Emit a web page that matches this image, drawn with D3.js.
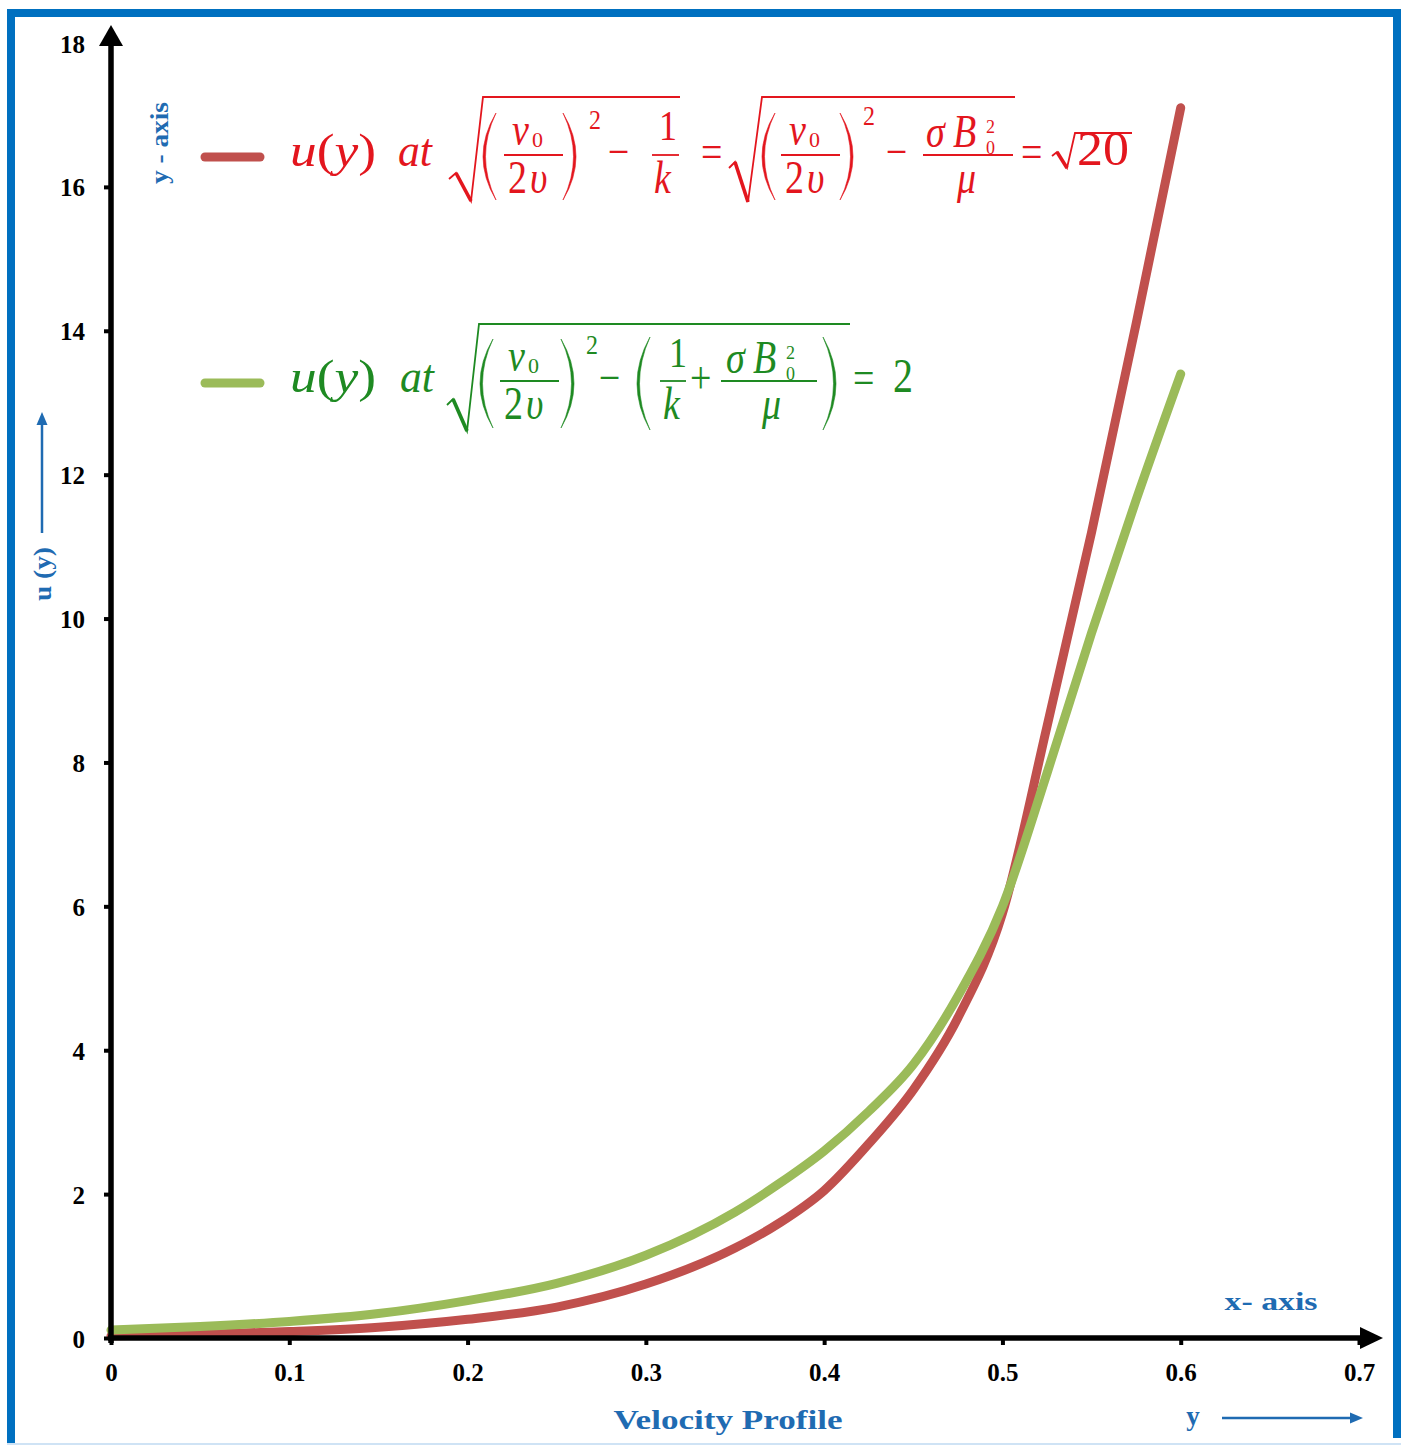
<!DOCTYPE html>
<html>
<head>
<meta charset="utf-8">
<script src="https://cdn.jsdelivr.net/npm/d3@7"></script>
<style>
  body { margin: 0; background: #fff; }
  svg { display: block; }
</style>
</head>
<body>
<div id="chart"></div>
<script>
// values
const xValues = [0, 0.05, 0.1, 0.15, 0.2, 0.25, 0.3, 0.35, 0.375, 0.4, 0.425, 0.45, 0.475, 0.5, 0.525, 0.55, 0.575, 0.6];
const redValues = [0.03, 0.05, 0.09, 0.15, 0.26, 0.43, 0.75, 1.25, 1.6, 2.05, 2.7, 3.45, 4.45, 5.9, 8.5, 11.2, 14.1, 17.1];
const greenValues = [0.11, 0.16, 0.23, 0.34, 0.52, 0.76, 1.15, 1.75, 2.15, 2.6, 3.15, 3.8, 4.75, 6.0, 7.85, 9.8, 11.65, 13.4];
const yTicks = [0, 2, 4, 6, 8, 10, 12, 14, 16, 18];
const xTicks = [0, 0.1, 0.2, 0.3, 0.4, 0.5, 0.6, 0.7];
const xTickLabels = ['0', '0.1', '0.2', '0.3', '0.4', '0.5', '0.6', '0.7'];

const WIDTH = 1402;
const HEIGHT = 1445;
const SERIF = "'Liberation Serif', 'Times New Roman', serif";
const BLUE = '#1F6BB2';
const RED_LINE = '#C0504D';
const GREEN_LINE = '#9BBB59';
const RED_TEXT = '#E3161E';
const GREEN_TEXT = '#1E8A22';
const SY = 1.2; // equation glyphs are a bit taller than wide in the reference
const DEN = 36; // baseline of denominators below the fraction axis

const series = [
  { key: 'red', values: redValues, color: RED_LINE },
  { key: 'green', values: greenValues, color: GREEN_LINE },
];

const svg = d3.select('#chart')
  .append('svg')
  .attr('width', WIDTH)
  .attr('height', HEIGHT)
  .attr('viewBox', `0 0 ${WIDTH} ${HEIGHT}`);

svg.append('rect').attr('width', WIDTH).attr('height', HEIGHT).attr('fill', '#fff');

// Blue frame
const frame = svg.append('g').attr('fill', '#0070C0');
frame.append('rect').attr('x', 7).attr('y', 9).attr('width', 1394).attr('height', 8);
frame.append('rect').attr('x', 7).attr('y', 9).attr('width', 8).attr('height', 1436);
frame.append('rect').attr('x', 1393).attr('y', 9).attr('width', 8).attr('height', 1429);
svg.append('rect').attr('x', 7).attr('y', 1443).attr('width', 1394).attr('height', 2).attr('fill', '#CFE3F5');

// Scales
const x = d3.scaleLinear().domain([0, 0.7]).range([111, 1359]);
const y = d3.scaleLinear().domain([0, 18]).range([1338, 43]);

// Curves
const line = d3.line()
  .x((d) => x(d[0]))
  .y((d) => y(d[1]))
  .curve(d3.curveMonotoneX);

svg.selectAll('.curve')
  .data(series)
  .enter()
  .append('path')
  .attr('class', 'curve')
  .attr('d', (s) => line(xValues.map((v, i) => [v, s.values[i]])))
  .attr('fill', 'none')
  .attr('stroke', (s) => s.color)
  .attr('stroke-width', 9)
  .attr('stroke-linecap', 'round')
  .attr('stroke-linejoin', 'round');

// Axes (ticks + labels from d3, thick lines and arrows drawn on top)
const yAxis = svg.append('g')
  .attr('transform', `translate(${x(0)},0)`)
  .call(d3.axisLeft(y).tickValues(yTicks).tickSize(7).tickSizeOuter(0).tickPadding(19).tickFormat(d3.format('d')));

const xAxis = svg.append('g')
  .attr('transform', `translate(0,${y(0)})`)
  .call(d3.axisBottom(x).tickValues(xTicks).tickSize(7).tickSizeOuter(0).tickPadding(18)
    .tickFormat((d, i) => xTickLabels[i]));

[yAxis, xAxis].forEach((ax) => {
  ax.select('.domain').remove();
  ax.selectAll('.tick line').attr('stroke', '#000').attr('stroke-width', 4);
  ax.selectAll('.tick text')
    .attr('fill', '#000')
    .attr('font-family', SERIF)
    .attr('font-weight', 'bold')
    .attr('font-size', 25);
});
yAxis.selectAll('.tick text').attr('dy', '0.36em');

const axisLines = svg.append('g').attr('stroke', '#000').attr('stroke-width', 5.5);
axisLines.append('line').attr('x1', x(0)).attr('x2', x(0)).attr('y1', y(0) + 5).attr('y2', 40);
axisLines.append('line').attr('x1', x(0) - 3).attr('x2', 1364).attr('y1', y(0)).attr('y2', y(0));
svg.append('path').attr('d', `M${x(0)},25 L${x(0) + 12},46 L${x(0) - 12},46 Z`).attr('fill', '#000');
svg.append('path').attr('d', `M1383,${y(0)} L1360,${y(0) - 11} L1360,${y(0) + 11} Z`).attr('fill', '#000');

// Blue axis captions
function caption(x0, y0, str, size, len, rotate) {
  const el = svg.append('text')
    .attr('transform', `translate(${x0},${y0})${rotate ? ' rotate(-90)' : ''}`)
    .attr('text-anchor', 'middle')
    .attr('font-family', SERIF)
    .attr('font-weight', 'bold')
    .attr('font-size', size)
    .attr('fill', BLUE)
    .text(str);
  if (len) el.attr('textLength', len).attr('lengthAdjust', 'spacingAndGlyphs');
  return el;
}

caption(168, 143, 'y - axis', 25, 82, true);
caption(51, 574, 'u (y)', 25, 54, true);
caption(1271, 1310, 'x- axis', 26, 93);
caption(728, 1429, 'Velocity Profile', 27, 229);
caption(1193, 1425, 'y', 27);

function arrow(x1, y1, x2, y2) {
  const ang = Math.atan2(y2 - y1, x2 - x1);
  const len = 13;
  const half = 5.5;
  const bx = x2 - Math.cos(ang) * len;
  const by = y2 - Math.sin(ang) * len;
  svg.append('line')
    .attr('x1', x1).attr('y1', y1).attr('x2', bx).attr('y2', by)
    .attr('stroke', BLUE).attr('stroke-width', 2.5);
  svg.append('path')
    .attr('d', `M${x2},${y2} L${bx - Math.sin(ang) * half},${by + Math.cos(ang) * half} L${bx + Math.sin(ang) * half},${by - Math.cos(ang) * half} Z`)
    .attr('fill', BLUE);
}
arrow(42, 533, 42, 412);
arrow(1222, 1418, 1363, 1418);

// Legend with the equations
function makeEq(g, color) {
  const api = {
    t(x0, y0, str, size = 38, italic = false, len = null, sy = SY) {
      const el = g.append('text')
        .attr('transform', `translate(${x0},${y0}) scale(1,${sy})`)
        .attr('font-family', SERIF)
        .attr('font-size', size)
        .attr('font-style', italic ? 'italic' : 'normal')
        .attr('fill', color)
        .text(str);
      if (len) el.attr('textLength', len).attr('lengthAdjust', 'spacingAndGlyphs');
      return el;
    },
    bar(x1, x2, y0) {
      g.append('line').attr('x1', x1).attr('x2', x2).attr('y1', y0).attr('y2', y0)
        .attr('stroke', color).attr('stroke-width', 1.8);
    },
    paren(x0, y1, y2, left) {
      const w = 13;
      const mid = (y1 + y2) / 2;
      const d = left
        ? `M${x0 + w},${y1} Q${x0 - w},${mid} ${x0 + w},${y2} Q${x0 + 5 - w},${mid} ${x0 + w},${y1} Z`
        : `M${x0},${y1} Q${x0 + 2 * w},${mid} ${x0},${y2} Q${x0 + 2 * w - 5},${mid} ${x0},${y1} Z`;
      g.append('path').attr('d', d).attr('fill', color).attr('stroke', color).attr('stroke-width', 0.6);
    },
    radical(pts) {
      g.append('path').attr('d', 'M' + pts.map((p) => p.join(',')).join(' L'))
        .attr('fill', 'none').attr('stroke', color).attr('stroke-width', 1.8).attr('stroke-linejoin', 'miter');
      g.append('path').attr('d', `M${pts[1].join(',')} L${pts[2].join(',')}`)
        .attr('stroke', color).attr('stroke-width', 3.6);
    },
    frac2v(x0) {
      // (v0 / 2υ)
      api.t(x0 + 4, -12, 'v', 38, true);
      api.t(x0 + 24, -10, '0', 22, false, null, 1);
      api.bar(x0 - 4, x0 + 55, -2);
      api.t(x0, DEN, '2', 38);
      api.t(x0 + 22, DEN, 'υ', 38, true);
    },
    sigmaB(x0) {
      api.t(x0, -10, 'σ', 38, true);
      api.t(x0 + 27, -10, 'B', 38, true);
      api.t(x0 + 60, -3, '0', 18, false, null, 1);
      api.t(x0 + 60, -24, '2', 18, false, null, 1);
    },
  };
  return api;
}

const legend = [
  { anchor: [205, 157], color: RED_LINE, text: RED_TEXT },
  { anchor: [205, 383], color: GREEN_LINE, text: GREEN_TEXT },
];

legend.forEach((l) => {
  const g = svg.append('g').attr('transform', `translate(${l.anchor[0]},${l.anchor[1]})`);
  g.append('line').attr('x1', 0).attr('x2', 55).attr('y1', 0).attr('y2', 0)
    .attr('stroke', l.color).attr('stroke-width', 9).attr('stroke-linecap', 'round');
  l.g = g;
});

function uOfY(e, x0) {
  const ux = e.t(x0, 9, '', 38);
  ux.append('tspan').attr('font-style', 'italic').text('u');
  ux.append('tspan').text('(');
  ux.append('tspan').attr('font-style', 'italic').text('y');
  ux.append('tspan').text(')');
  ux.attr('textLength', 86).attr('lengthAdjust', 'spacingAndGlyphs');
}

// red: u(y) at sqrt((v0/2υ)^2 − 1/k) = sqrt((v0/2υ)^2 − σB0²/μ) = √20
{
  const e = makeEq(legend[0].g, legend[0].text);
  uOfY(e, 85);
  e.t(193, 9, 'at', 38, true, 34);
  e.radical([[244, 22], [251, 16], [266, 44], [278, -60], [475, -60]]);
  e.paren(278, -44, 43, true);
  e.frac2v(303);
  e.paren(358, -44, 43, false);
  e.t(384, -28, '2', 24, false, null, 1.1);
  e.t(403, 10, '−', 38);
  e.t(454, -17, '1', 36);
  e.bar(447, 474, -2);
  e.t(449, DEN, 'k', 38, true);
  e.t(496, 10, '=', 38);
  e.radical([[524, 11], [530, 5], [543, 45], [557, -60], [810, -60]]);
  e.paren(557, -44, 43, true);
  e.frac2v(580);
  e.paren(635, -44, 43, false);
  e.t(658, -32, '2', 24, false, null, 1.1);
  e.t(681, 10, '−', 38);
  e.sigmaB(721);
  e.bar(718, 808, -2);
  e.t(752, DEN, 'μ', 38, true);
  e.t(816, 10, '=', 38);
  e.radical([[847, -1], [852, -5], [862, 11], [870, -24], [927, -24]]);
  e.t(872, 8, '20', 40, false, 52);
}

// green: u(y) at sqrt((v0/2υ)^2 − (1/k + σB0²/μ)) = 2
{
  const e = makeEq(legend[1].g, legend[1].text);
  uOfY(e, 85);
  e.t(195, 9, 'at', 38, true, 34);
  e.radical([[242, 22], [248, 16], [262, 48], [274, -59], [645, -59]]);
  e.paren(275, -44, 45, true);
  e.frac2v(299);
  e.paren(356, -44, 45, false);
  e.t(381, -29, '2', 24, false, null, 1.1);
  e.t(394, 10, '−', 38);
  e.paren(432, -46, 47, true);
  e.t(464, -16, '1', 36);
  e.bar(455, 481, -2);
  e.t(458, DEN, 'k', 38, true);
  e.t(485, 10, '+', 38);
  e.sigmaB(521);
  e.bar(516, 612, -2);
  e.t(557, DEN, 'μ', 38, true);
  e.paren(618, -46, 47, false);
  e.t(648, 10, '=', 38);
  e.t(688, 9, '2', 40);
}
</script>
</body>
</html>
